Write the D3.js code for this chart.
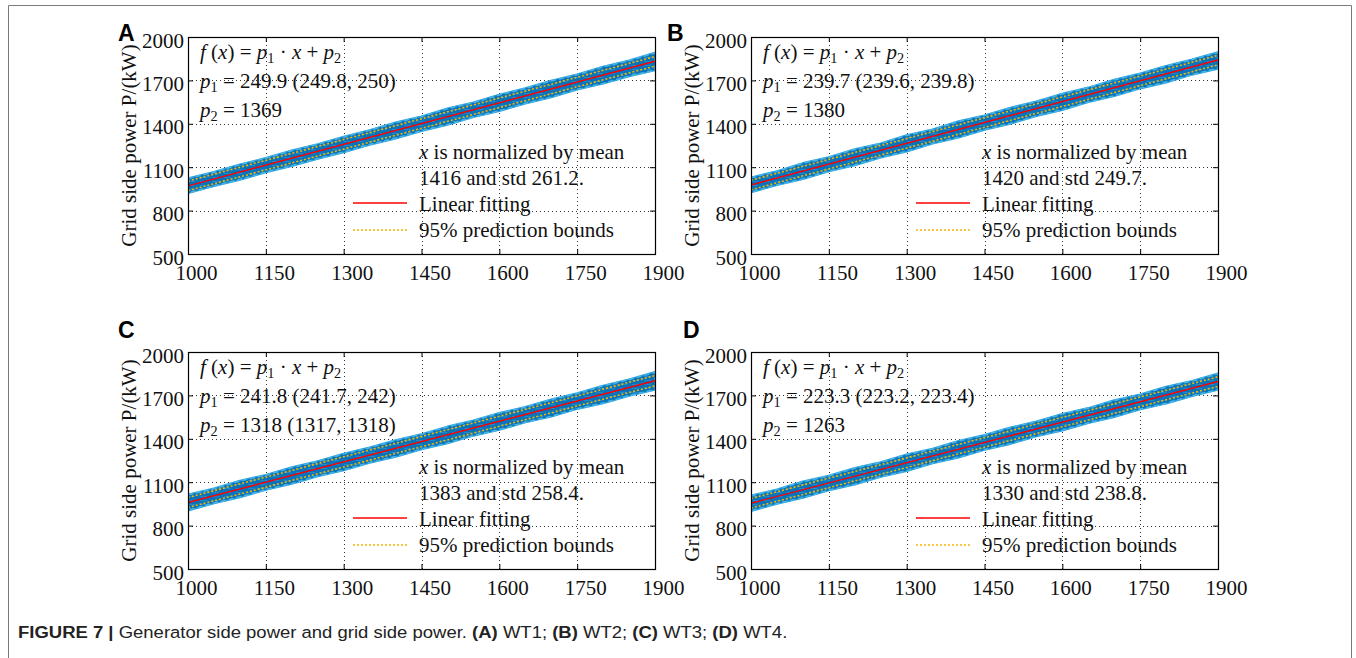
<!DOCTYPE html>
<html>
<head>
<meta charset="utf-8">
<script src="https://cdn.jsdelivr.net/npm/d3@7/dist/d3.min.js"></script>
<style>
  html, body { margin: 0; padding: 0; background: #fff; }
  svg { display: block; }
</style>
</head>
<body>
<svg id="fig" width="1356" height="658"></svg>
<script>
// Axis ticks shared by all four panels
const xTicks = [1000, 1150, 1300, 1450, 1600, 1750, 1900];
const yTicks = [500, 800, 1100, 1400, 1700, 2000];

// Fit results per wind turbine (WT1..WT4)
const panelLetters = ["A", "B", "C", "D"];
const p1 = [249.9, 239.7, 241.8, 223.3];
const p1Bounds = ["(249.8, 250)", "(239.6, 239.8)", "(241.7, 242)", "(223.2, 223.4)"];
const p2 = [1369, 1380, 1318, 1263];
const p2Bounds = ["", "", "(1317, 1318)", ""];
const normMean = [1416, 1420, 1383, 1330];
const normStd = ["261.2", "249.7", "258.4", "238.8"];
const predHalfWidth = [33, 33, 35, 33];

// Envelope of the measured scatter cloud (generator power -> grid power, kW)
const bandX = [1000, 1050, 1100, 1150, 1200, 1250, 1300, 1350, 1400, 1450,
               1500, 1550, 1600, 1650, 1700, 1750, 1800, 1850, 1900];
const bandTopA = [1022, 1066, 1118, 1162, 1214, 1258, 1309, 1355, 1408, 1450, 1505, 1546, 1600, 1644, 1697, 1740, 1794, 1836, 1890];
const bandBotA = [922, 971, 1015, 1066, 1110, 1160, 1205, 1257, 1300, 1352, 1395, 1448, 1490, 1542, 1585, 1638, 1679, 1730, 1772];
const bandTopB = [1028, 1071, 1127, 1168, 1223, 1263, 1320, 1359, 1416, 1457, 1510, 1553, 1607, 1649, 1703, 1747, 1799, 1843, 1893];
const bandBotB = [928, 978, 1019, 1073, 1115, 1168, 1210, 1265, 1306, 1360, 1402, 1455, 1497, 1551, 1593, 1646, 1687, 1741, 1783];
const bandTopC = [1013, 1055, 1109, 1149, 1202, 1244, 1296, 1338, 1389, 1431, 1483, 1525, 1578, 1618, 1671, 1713, 1766, 1809, 1860];
const bandBotC = [905, 956, 997, 1049, 1090, 1143, 1183, 1236, 1277, 1329, 1370, 1423, 1463, 1515, 1555, 1608, 1647, 1699, 1740];
const bandTopD = [1006, 1049, 1103, 1143, 1197, 1237, 1291, 1330, 1384, 1425, 1477, 1518, 1571, 1611, 1665, 1705, 1759, 1799, 1850];
const bandBotD = [902, 952, 993, 1045, 1085, 1139, 1179, 1232, 1272, 1325, 1366, 1418, 1459, 1511, 1552, 1605, 1645, 1697, 1740];
const bandTops = [bandTopA, bandTopB, bandTopC, bandTopD];
const bandBots = [bandBotA, bandBotB, bandBotC, bandBotD];

const yLabel = "Grid side power P/(kW)";
const captionParts = [
  ["FIGURE 7 | ", true], ["Generator side power and grid side power. ", false],
  ["(A)", true], [" WT1; ", false], ["(B)", true], [" WT2; ", false],
  ["(C)", true], [" WT3; ", false], ["(D)", true], [" WT4.", false]
];

// Layout
const plotW = 467, plotH = 217;
const panelLeft = [188, 751, 188, 751];
const panelTop = [37, 37, 352, 352];
const letterPos = [[118, 41], [667, 41], [118, 338], [683, 338]];
const SERIF = "'Liberation Serif', 'Times New Roman', serif";
const FS = 21;

const svg = d3.select("#fig");
svg.append("rect").attr("width", 1356).attr("height", 658).attr("fill", "#fff");
// outer frame
svg.append("path")
  .attr("d", "M8.5,662V5.5H1351.5V662")
  .attr("fill", "none").attr("stroke", "#7a7a7a").attr("stroke-width", 1);

const defs = svg.append("defs");
const pat = defs.append("pattern").attr("id", "streak")
  .attr("patternUnits", "userSpaceOnUse").attr("width", 12).attr("height", 4);
pat.append("rect").attr("width", 12).attr("height", 4).attr("fill", "#0a74bb");
pat.append("rect").attr("y", 0).attr("width", 7).attr("height", 1).attr("fill", "#2b97d4").attr("opacity", 0.6);

// rich text: parts = [[text, style]], style: "i" italic, "s" subscript
function richText(g, x, y, parts, size) {
  const t = g.append("text").attr("x", x).attr("y", y)
    .attr("font-family", SERIF).attr("font-size", size).attr("fill", "#111");
  let shifted = 0;
  parts.forEach(([txt, st]) => {
    const s = t.append("tspan").text(txt);
    if (st === "s") {
      s.attr("font-size", size * 0.68).attr("dy", 4 - shifted);
      shifted = 4;
    } else {
      if (shifted) { s.attr("dy", -shifted); shifted = 0; }
      if (st === "i") s.attr("font-style", "italic");
    }
  });
  t.style("white-space", "pre");
  return t;
}

function drawPanel(i) {
  const g = svg.append("g").attr("transform", `translate(${panelLeft[i]},${panelTop[i]})`);
  const x = d3.scaleLinear().domain([1000, 1900]).range([0, plotW]);
  const y = d3.scaleLinear().domain([500, 2000]).range([plotH, 0]);

  const clipId = "clip" + i;
  defs.append("clipPath").attr("id", clipId)
    .append("rect").attr("width", plotW).attr("height", plotH);

  // dotted grid
  const grid = g.append("g").attr("stroke", "#333").attr("stroke-width", 1)
    .attr("stroke-dasharray", "1,3");
  grid.selectAll(".gx").data(xTicks.slice(1, -1)).join("line")
    .attr("x1", d => Math.round(x(d)) + 0.5).attr("x2", d => Math.round(x(d)) + 0.5)
    .attr("y1", 0).attr("y2", plotH);
  grid.selectAll(".gy").data(yTicks.slice(1, -1)).join("line")
    .attr("y1", d => Math.round(y(d)) + 0.5).attr("y2", d => Math.round(y(d)) + 0.5)
    .attr("x1", 0).attr("x2", plotW);

  // scatter cloud envelope
  const pts = bandX.map((bx, k) => ({ x: bx, hi: bandTops[i][k], lo: bandBots[i][k] }));
  const area = d3.area().x(d => x(d.x)).y0(d => y(d.lo)).y1(d => y(d.hi)).curve(d3.curveLinear);
  const data = g.append("g").attr("clip-path", `url(#${clipId})`);
  data.append("path").datum(pts).attr("d", area)
    .attr("fill", "#2fa3dc").attr("stroke", "#2fa3dc").attr("stroke-width", 2.4)
    .attr("stroke-linejoin", "round");
  data.append("path").datum(pts).attr("d", area)
    .attr("fill", "url(#streak)").attr("stroke", "#47b4e6").attr("stroke-width", 1.6)
    .attr("stroke-dasharray", "5,3").attr("stroke-linejoin", "round");

  // linear fit and 95% prediction bounds
  const fit = v => p1[i] * (v - normMean[i]) / +normStd[i] + p2[i];
  const ends = [1000, 1900];
  const line = d3.line().x(d => x(d[0])).y(d => y(d[1]));
  [-1, 1].forEach(sgn => {
    data.append("path").datum(ends.map(v => [v, fit(v) + sgn * predHalfWidth[i]]))
      .attr("d", line).attr("fill", "none").attr("stroke", "#f2b705")
      .attr("stroke-width", 1.6).attr("stroke-dasharray", "2,2");
  });
  data.append("path").datum(ends.map(v => [v, fit(v)]))
    .attr("d", line).attr("fill", "none").attr("stroke", "#ff0000").attr("stroke-width", 1.4);

  // axes (ticks pointing inward, box on)
  const styleAxis = sel => {
    sel.select(".domain").remove();
    sel.selectAll("line").attr("stroke", "#000");
    sel.selectAll("text").attr("font-family", SERIF).attr("font-size", FS).attr("fill", "#111");
  };
  g.append("g").attr("transform", `translate(0,${plotH})`)
    .call(d3.axisBottom(x).tickValues(xTicks).tickSize(-5).tickPadding(11).tickFormat(d3.format("d")))
    .call(styleAxis).selectAll("text").attr("dx", 8);
  g.append("g")
    .call(d3.axisLeft(y).tickValues(yTicks).tickSize(-5).tickPadding(4).tickFormat(d3.format("d")))
    .call(styleAxis).selectAll("text").attr("dy", "0.48em");
  g.append("g")
    .call(d3.axisTop(x).tickValues(xTicks).tickSize(-5).tickFormat(""))
    .call(styleAxis);
  g.append("g").attr("transform", `translate(${plotW},0)`)
    .call(d3.axisRight(y).tickValues(yTicks).tickSize(-5).tickFormat(""))
    .call(styleAxis);
  g.append("rect").attr("x", 0.5).attr("y", 0.5).attr("width", plotW).attr("height", plotH)
    .attr("fill", "none").attr("stroke", "#000").attr("stroke-width", 1.2);

  // y axis title
  g.append("text")
    .attr("transform", `translate(${-52},${plotH / 2}) rotate(-90)`)
    .attr("text-anchor", "middle").attr("font-family", SERIF).attr("font-size", FS)
    .attr("fill", "#111").text(yLabel);

  // fit equation
  richText(g, 12, 22, [["f", "i"], [" (", ""], ["x", "i"], [") = ", ""], ["p", "i"], ["1", "s"],
    [" \u00B7 ", ""], ["x", "i"], [" + ", ""], ["p", "i"], ["2", "s"]], FS);
  richText(g, 12, 51, [["p", "i"], ["1", "s"], [` = ${p1[i]} ${p1Bounds[i]}`, ""]], FS);
  richText(g, 12, 80, [["p", "i"], ["2", "s"], [` = ${p2[i]}${p2Bounds[i] ? " " + p2Bounds[i] : ""}`, ""]], FS);

  // legend
  richText(g, 231, 122, [["x", "i"], [" is normalized by mean", ""]], FS);
  richText(g, 231, 148, [[`${normMean[i]} and std ${normStd[i]}.`, ""]], FS);
  richText(g, 231, 174, [["Linear fitting", ""]], FS);
  richText(g, 231, 200, [["95% prediction bounds", ""]], FS);
  g.append("line").attr("x1", 165).attr("x2", 219).attr("y1", 166).attr("y2", 166)
    .attr("stroke", "#ff0000").attr("stroke-width", 1.4);
  g.append("line").attr("x1", 165).attr("x2", 219).attr("y1", 193).attr("y2", 193)
    .attr("stroke", "#f2b705").attr("stroke-width", 1.6).attr("stroke-dasharray", "2,2");

  // panel letter
  svg.append("text").attr("x", letterPos[i][0]).attr("y", letterPos[i][1])
    .attr("font-family", "'Liberation Sans', Arial, sans-serif").attr("font-weight", "bold")
    .attr("font-size", 23).attr("fill", "#000").text(panelLetters[i]);
}

panelLetters.forEach((_, i) => drawPanel(i));

// caption
const cap = svg.append("text").attr("x", 18).attr("y", 638)
  .attr("font-family", "'Liberation Sans', Arial, sans-serif").attr("font-size", 17).attr("fill", "#222");
captionParts.forEach(([t, b]) => {
  const s = cap.append("tspan").text(t);
  if (b) s.attr("font-weight", "bold");
});
cap.style("white-space", "pre");
const natural = cap.node().getComputedTextLength();
const sx = 770 / natural;
cap.attr("transform", `translate(18,0) scale(${sx},1) translate(-18,0)`);
</script>
</body>
</html>
